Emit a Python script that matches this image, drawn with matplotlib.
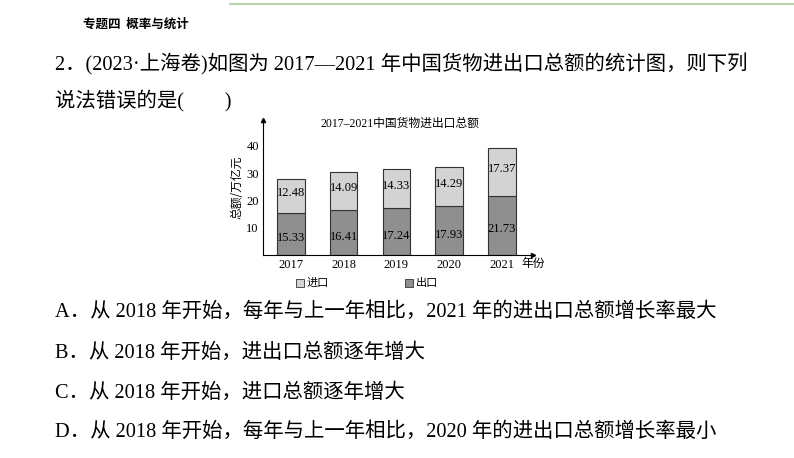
import matplotlib
matplotlib.use("Agg")
import matplotlib.pyplot as plt
from matplotlib.patches import Rectangle

years = ["2017", "2018", "2019", "2020", "2021"]
exports = [15.33, 16.41, 17.24, 17.93, 21.73]
imports = [12.48, 14.09, 14.33, 14.29, 17.37]
yticks = [10, 20, 30, 40]

CJK = ["Noto Sans CJK SC", "DejaVu Sans"]
SERIF = ["Liberation Serif", "Noto Sans CJK SC"]

fig = plt.figure(figsize=(7.94, 4.58), dpi=100)
fig.patch.set_facecolor("white")
W, H = 794, 458
def fx(x): return x / W
def fy(y): return 1 - y / H

# header
fig.text(fx(83), fy(24), "专题四  概率与统计", family=CJK, fontsize=9, va="center", weight="bold")
fig.add_artist(plt.Line2D([fx(230), fx(794)], [fy(4), fy(4)], color="#b9d3a8", lw=1.5))

big = 14.7
fig.text(fx(55), fy(64), "2．(2023·上海卷)如图为 2017—2021 年中国货物进出口总额的统计图，则下列",
         family=SERIF, fontsize=big, va="center")
fig.text(fx(55), fy(101), "说法错误的是(　　)", family=SERIF, fontsize=big, va="center")
opts = [(312, "A．从 2018 年开始，每年与上一年相比，2021 年的进出口总额增长率最大"),
        (353, "B．从 2018 年开始，进出口总额逐年增大"),
        (393, "C．从 2018 年开始，进口总额逐年增大"),
        (432, "D．从 2018 年开始，每年与上一年相比，2020 年的进出口总额增长率最小")]
for y, t in opts:
    fig.text(fx(55), fy(y), t, family=SERIF, fontsize=big, va="center")

# chart
ax = fig.add_axes([fx(263), fy(255), fx(533) - fx(263), fy(120) - fy(255)])
x = list(range(len(years)))
bw = 0.52
ax.bar(x, exports, bw, color="#8f8f8f", edgecolor="#333333", lw=0.8)
ax.bar(x, imports, bw, bottom=exports, color="#d3d3d3", edgecolor="#333333", lw=0.8)
fs = 9
for i in x:
    ax.text(i, exports[i] / 2 - 1.5, f"{exports[i]:.2f}", ha="center", va="center", family=SERIF, fontsize=fs)
    ax.text(i, exports[i] + imports[i] / 2 + 1, f"{imports[i]:.2f}", ha="center", va="center", family=SERIF, fontsize=fs)
ax.set_xlim(-0.53, 4.59)
ax.set_ylim(0, 49.4)
ax.set_xticks(x)
ax.set_xticklabels(years, family=SERIF, fontsize=fs)
ax.set_yticks(yticks)
ax.set_yticklabels([str(v) for v in yticks], family=SERIF, fontsize=fs)
ax.tick_params(length=0, pad=3)
for s in ["top", "right"]:
    ax.spines[s].set_visible(False)
for s in ["left", "bottom"]:
    ax.spines[s].set_linewidth(0.8)
ax.plot(1, 0, ">k", transform=ax.transAxes, clip_on=False, ms=3)
ax.plot(0, 1, "^k", transform=ax.transAxes, clip_on=False, ms=3)
ax.set_ylabel("总额/万亿元", family=CJK, fontsize=8.5, labelpad=2)
fig.text(fx(521), fy(263), "年份", family=CJK, fontsize=8.5, va="center")
fig.text(fx(400), fy(124), "2017–2021中国货物进出口总额", family=SERIF, fontsize=8.5, ha="center", va="center")
# legend
for lx, col, lab in [(296, "#d3d3d3", "进口"), (405, "#8f8f8f", "出口")]:
    fig.add_artist(Rectangle((fx(lx), fy(287)), fx(8), 8 / H, facecolor=col, edgecolor="#333333", lw=0.6))
    fig.text(fx(lx + 11), fy(283), lab, family=CJK, fontsize=8, va="center")

fig.savefig("out.png", dpi=100)
